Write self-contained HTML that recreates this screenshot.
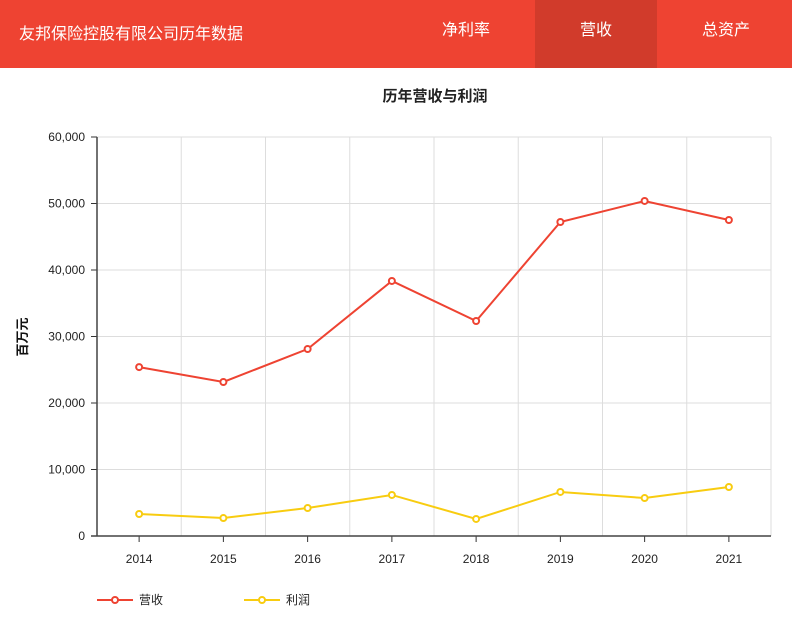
<!DOCTYPE html>
<html><head><meta charset="utf-8"><style>
body{margin:0;width:792px;height:620px;background:#fff;font-family:"Liberation Sans","Noto Sans CJK SC",sans-serif;overflow:hidden}
.hdr{position:absolute;left:0;top:0;width:792px;height:68px;background:#ee4332;color:#fff}
.ttl{position:absolute;left:19px;top:20px;font-size:16px}
.tab{position:absolute;top:0;height:68px;line-height:62px;text-align:center;font-size:16px;width:122px}
</style></head><body>
<div class="hdr">
<div class="ttl">友邦保险控股有限公司历年数据</div>
<div class="tab" style="left:405px">净利率</div>
<div class="tab" style="left:535px;background:#d13b2b">营收</div>
<div class="tab" style="left:665px">总资产</div>
</div>
<svg id="c" width="792" height="620" style="position:absolute;left:0;top:0"></svg>
<script>
const categories=["2014","2015","2016","2017","2018","2019","2020","2021"];
const revenue=[25400,23160,28120,38350,32330,47220,50380,47520];
const profit=[3310,2700,4210,6170,2560,6620,5710,7370];
const yTicks=[0,10000,20000,30000,40000,50000,60000];
const yTickLabels=["0","10,000","20,000","30,000","40,000","50,000","60,000"];
const svg=document.getElementById('c');const NS="http://www.w3.org/2000/svg";
const L=97,R=771,T=137,B=536,yMax=60000;
const bw=(R-L)/categories.length;
const x=i=>L+bw*(i+0.5);const y=v=>B-(v/yMax)*(B-T);
function mk(t,a,p){const e=document.createElementNS(NS,t);for(const k in a)e.setAttribute(k,a[k]);(p||svg).appendChild(e);return e;}
let e=mk('text',{x:435,y:101,'text-anchor':'middle','font-size':15,'font-weight':'bold',fill:'#222'});e.textContent='历年营收与利润';


yTicks.forEach((v,i)=>{
 const g=mk('line',{x1:L,x2:R,y1:y(v),y2:y(v),stroke:'#ddd'});
 
 
 const tk=mk('line',{x1:L-6,x2:L,y1:y(v),y2:y(v),stroke:'#333'});
 
 
 const t=mk('text',{x:L-12,y:y(v)+4,'text-anchor':'end','font-size':12,fill:'#222'});t.textContent=yTickLabels[i];
 
 
});
for(let i=1;i<=categories.length;i++){const g=mk('line',{x1:L+bw*i,x2:L+bw*i,y1:T,y2:B,stroke:'#ddd'});
 
 }
categories.forEach((c,i)=>{
 const tk=mk('line',{x1:x(i),x2:x(i),y1:B,y2:B+6,stroke:'#333'});
 
 
 const t=mk('text',{x:x(i),y:B+27,'text-anchor':'middle','font-size':12,fill:'#222'});t.textContent=c;
 
 
});
const ya=mk('line',{x1:L,x2:L,y1:T,y2:B,stroke:'#444','stroke-width':1.5});


const xa=mk('line',{x1:L-6,x2:R,y1:B,y2:B,stroke:'#444','stroke-width':1.5});


const yt=mk('text',{x:0,y:0,'font-size':13,'font-weight':'bold',fill:'#111','text-anchor':'middle',transform:'translate(27,337) rotate(-90)'});yt.textContent='百万元';


function series(d,col,name){
 const p=mk('polyline',{points:d.map((v,i)=>x(i)+','+y(v)).join(' '),fill:'none',stroke:col,'stroke-width':2});
 
 
 d.forEach((v,i)=>{const c=mk('circle',{cx:x(i),cy:y(v),r:3,fill:'#fff',stroke:col,'stroke-width':2});
 
 });
}
series(revenue,'#ee4332','revenue');series(profit,'#f8cc10','profit');
function legend(lx,col,label,name){
 const l=mk('line',{x1:lx,x2:lx+36,y1:600,y2:600,stroke:col,'stroke-width':2});
 
 
 const c=mk('circle',{cx:lx+18,cy:600,r:3,fill:'#fff',stroke:col,'stroke-width':2});
 
 
 const t=mk('text',{x:lx+42,y:604,'font-size':12,fill:'#222'});t.textContent=label;
 
 
}
legend(97,'#ee4332','营收','revenue');legend(244,'#f8cc10','利润','profit');
</script>
</body></html>
